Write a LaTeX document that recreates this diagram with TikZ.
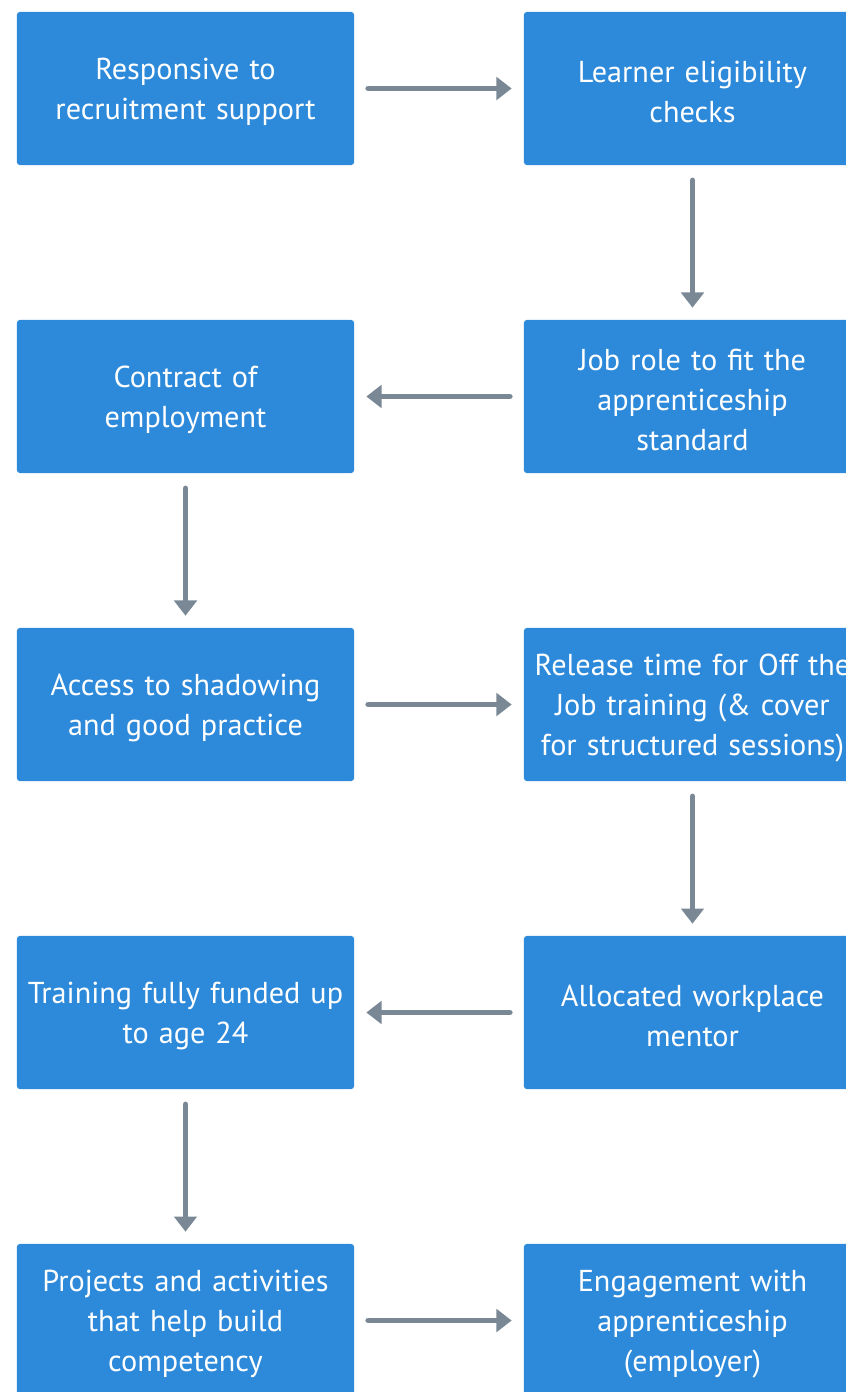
\documentclass[tikz,border=0pt]{standalone}
\usepackage{fontspec}
\setmainfont{PT Sans}
\usepackage{xcolor}
\usepackage{tikz}
\usetikzlibrary{arrows.meta}
\definecolor{boxblue}{RGB}{45,137,217}
\definecolor{flowgrey}{RGB}{122,136,150}
\tikzset{
	stepbox/.style={shape=rectangle, fill=boxblue, rounded corners=2pt, inner sep=0, minimum width=8.425cm, minimum height=3.825cm, text=white, align=center, text width=8.4cm, font=\fontsize{21.5}{28.5}\selectfont, execute at begin node={\rule{0pt}{20pt}}},
	flow/.style={draw=flowgrey, line width=4.2pt, line cap=round, -{Triangle[length=0.38cm, width=0.56cm]}}
}
\begin{document}
\begin{tikzpicture}[x=0.025cm, y=-0.025cm]
	\useasboundingbox (0, 0) rectangle (846, 1392);
	% Paths, nodes and wires:
	\node[stepbox] (Recruit) at (185.5, 88.5){Responsive to\\recruitment support};
	\node[stepbox] (Eligible) at (692.5, 88.5){Learner eligibility\\checks};
	\node[stepbox] (Contract) at (185.5, 396.5){Contract of\\employment};
	\node[stepbox] (JobRole) at (692.5, 396.5){Job role to fit the\\apprenticeship\\standard};
	\node[stepbox] (Shadow) at (185.5, 704.5){Access to shadowing\\and good practice};
	\node[stepbox] (Release) at (692.5, 704.5){Release time for Off the\\Job training (\& cover\\for structured sessions)};
	\node[stepbox] (Funded) at (185.5, 1012.5){Training fully funded up\\to age 24};
	\node[stepbox] (Mentor) at (692.5, 1012.5){Allocated workplace\\mentor};
	\node[stepbox] (Projects) at (185.5, 1320.5){Projects and activities\\that help build\\competency};
	\node[stepbox] (Engage) at (692.5, 1320.5){Engagement with\\apprenticeship\\(employer)};
	\draw[flow] ([xshift=0.35cm]Recruit.east) -- ([xshift=-0.3cm]Eligible.west);
	\draw[flow] ([yshift=-0.38cm]Eligible.south) -- ([yshift=0.3cm]JobRole.north);
	\draw[flow] ([xshift=-0.35cm]JobRole.west) -- ([xshift=0.3cm]Contract.east);
	\draw[flow] ([yshift=-0.38cm]Contract.south) -- ([yshift=0.3cm]Shadow.north);
	\draw[flow] ([xshift=0.35cm]Shadow.east) -- ([xshift=-0.3cm]Release.west);
	\draw[flow] ([yshift=-0.38cm]Release.south) -- ([yshift=0.3cm]Mentor.north);
	\draw[flow] ([xshift=-0.35cm]Mentor.west) -- ([xshift=0.3cm]Funded.east);
	\draw[flow] ([yshift=-0.38cm]Funded.south) -- ([yshift=0.3cm]Projects.north);
	\draw[flow] ([xshift=0.35cm]Projects.east) -- ([xshift=-0.3cm]Engage.west);
\end{tikzpicture}
\end{document}
